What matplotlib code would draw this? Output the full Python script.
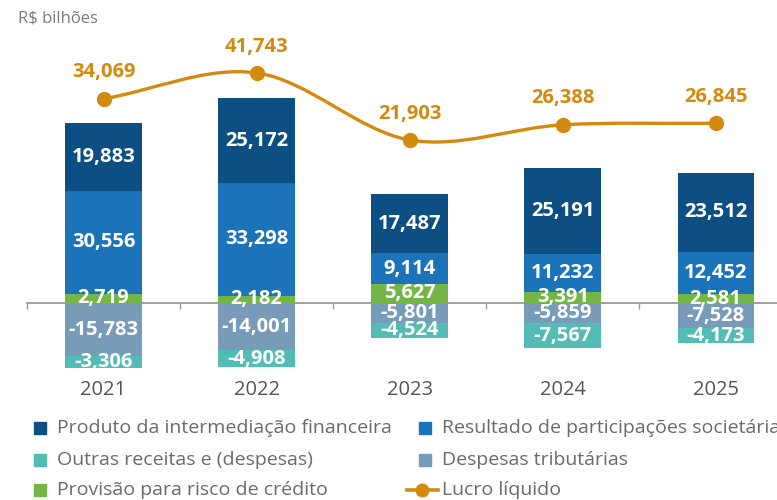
import matplotlib
matplotlib.use("Agg")
import matplotlib.pyplot as plt
from matplotlib.path import Path
from matplotlib.patches import PathPatch, Rectangle
from matplotlib.lines import Line2D
import matplotlib.transforms as mtransforms
import numpy as np

plt.rcParams['font.family'] = ['Open Sans', 'DejaVu Sans']

years = ["2021", "2022", "2023", "2024", "2025"]
produto_intermediacao = [19883, 25172, 17487, 25191, 23512]
resultado_participacoes = [30556, 33298, 9114, 11232, 12452]
provisao_risco = [2719, 2182, 5627, 3391, 2581]
despesas_tributarias = [-15783, -14001, -5801, -5859, -7528]
outras_receitas = [-3306, -4908, -4524, -7567, -4173]
lucro_liquido = [34069, 41743, 21903, 26388, 26845]

C_NAVY = "#0D4F83"
C_BLUE = "#1B74BA"
C_TEAL = "#53BCB4"
C_GRAY = "#789BBA"
C_GREEN = "#74B645"
C_ORANGE = "#D4890F"
C_TEXT = "#6A6A6A"

W, H = 777, 500
fig = plt.figure(figsize=(W / 100, H / 100), dpi=100)
ax = fig.add_axes([27 / W, 0.25, 1 - 27 / W, 0.69])

x = np.arange(len(years))
w = 0.5

green = np.array(provisao_risco)
blue = np.array(resultado_participacoes)
navy = np.array(produto_intermediacao)
gray = np.array(despesas_tributarias)
teal = np.array(outras_receitas)

# positive stack: provision at the base, then equity results, then financial intermediation;
# negative stack: tax expenses, then other income/expenses
bars = [
    (green, np.zeros(len(x)), C_GREEN),
    (blue, green, C_BLUE),
    (navy, green + blue, C_NAVY),
    (gray, np.zeros(len(x)), C_GRAY),
    (teal, gray, C_TEAL),
]
for vals, bottom, col in bars:
    ax.bar(x, vals, w, bottom=bottom, color=col, edgecolor="none", zorder=3)
    for xi, v, b in zip(x, vals, bottom):
        ax.text(xi, b + v / 2, f"{v:,}", ha="center", va="center", color="white",
                fontsize=14.5, fontweight="bold", zorder=5)

ax.set_xlim(-0.5, 4.4)
ax.set_ylim(-21300, 80770)

# baseline with small ticks at bar centers and between bars
for s in ["top", "right", "left"]:
    ax.spines[s].set_visible(False)
ax.spines["bottom"].set_position(("data", 0))
ax.spines["bottom"].set_color("#999999")
ax.spines["bottom"].set_linewidth(1.3)
ax.spines["bottom"].set_zorder(1)
ax.set_yticks([])
ax.set_xticks(np.arange(-0.5, 4.6, 0.5))
ax.tick_params(axis="x", length=4, width=1, color="#999999", labelbottom=False, direction="out")

trans = mtransforms.blended_transform_factory(ax.transData, fig.transFigure)
for xi, yr in zip(x, years):
    ax.text(xi, 1 - 390 / H, yr, transform=trans, ha="center", va="center",
            fontsize=14.5, color="#555555")

# net income line on its own scale, drawn as a smooth curve through the points
ax2 = ax.twinx()
ax2.axis("off")
ly = np.array(lucro_liquido, dtype=float)
pts = np.column_stack([x, ly])
ext = np.vstack([pts[0] - (pts[1] - pts[0]), pts, pts[-1] + (pts[-1] - pts[-2])])
verts = [tuple(pts[0])]
codes = [Path.MOVETO]
for i in range(len(pts) - 1):
    p0, p1, p2, p3 = ext[i], ext[i + 1], ext[i + 2], ext[i + 3]
    c1 = p1 + (p2 - p0) / 6
    c2 = p2 - (p3 - p1) / 6
    verts += [tuple(c1), tuple(c2), tuple(p2)]
    codes += [Path.CURVE4] * 3
ax2.add_patch(PathPatch(Path(verts, codes), facecolor="none", edgecolor=C_ORANGE,
                        lw=2.4, zorder=4, capstyle="round"))
ax2.plot(x, ly, "o", color=C_ORANGE, markersize=10, zorder=5)
for xi, v in zip(x, ly):
    ax2.annotate(f"{int(v):,}", (xi, v), xytext=(0, 19), textcoords="offset points",
                 ha="center", va="center", color=C_ORANGE, fontsize=14.5, fontweight="bold")
ax2.set_xlim(-0.5, 4.4)
ax2.set_ylim(-47630, 54440)

fig.text(18 / W, 1 - 18 / H, "R$ bilhões", fontsize=12, color="#7A7A7A",
         ha="left", va="center")

# legend laid out in two columns
entries = [
    ("patch", C_NAVY, "Produto da intermediação financeira", 34, 428),
    ("patch", C_TEAL, "Outras receitas e (despesas)", 34, 460),
    ("patch", C_GREEN, "Provisão para risco de crédito", 34, 490),
    ("patch", C_BLUE, "Resultado de participações societárias", 419, 428),
    ("patch", C_GRAY, "Despesas tributárias", 419, 460),
    ("line", C_ORANGE, "Lucro líquido", 419, 490),
]
for kind, col, label, px, py in entries:
    if kind == "patch":
        fig.add_artist(Rectangle((px / W, 1 - (py + 6) / H), 12 / W, 12 / H,
                                 transform=fig.transFigure, color=col))
    else:
        yy = 1 - py / H
        fig.add_artist(Line2D([407 / W, 438 / W], [yy, yy], transform=fig.transFigure,
                              color=col, lw=2.6))
        fig.add_artist(Line2D([422.5 / W], [yy], transform=fig.transFigure, color=col,
                              marker="o", markersize=9, lw=0))
    fig.text((px + 23) / W, 1 - py / H, label, fontsize=14, color=C_TEXT,
             ha="left", va="center")

fig.savefig("out.png", dpi=100)
